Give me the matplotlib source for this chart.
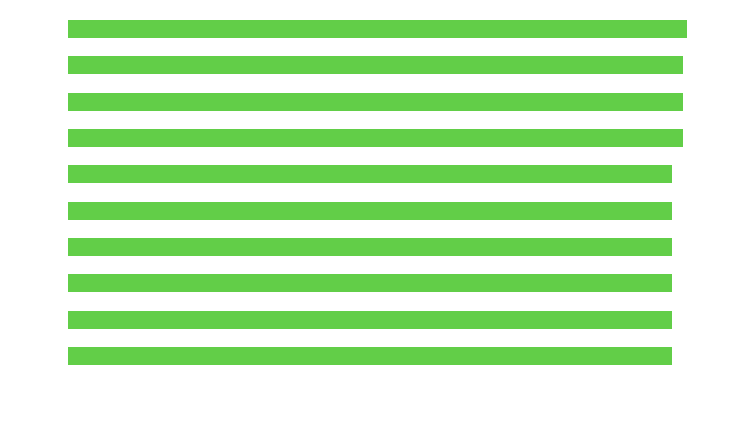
import matplotlib
matplotlib.use("Agg")
import matplotlib.pyplot as plt

categories = ["A", "B", "C", "D", "E", "F", "G", "H", "I", "J"]
values = [619, 615, 615, 615, 604, 604, 604, 604, 604, 604]
bar_color = "#62CE48"

W, H = 742, 436
fig = plt.figure(figsize=(W / 100, H / 100), dpi=100)
left, right, top, bottom = 68, 687, 20, 365
ax = fig.add_axes([left / W, 1 - bottom / H, (right - left) / W, (bottom - top) / H])

ypos = list(range(len(categories)))
ax.barh(ypos, values, height=0.5, color=bar_color, edgecolor="none")
ax.set_xlim(0, max(values))
ax.set_ylim(len(categories) - 1 + 0.25, -0.25)
ax.axis("off")

fig.savefig("out.png", dpi=100)
